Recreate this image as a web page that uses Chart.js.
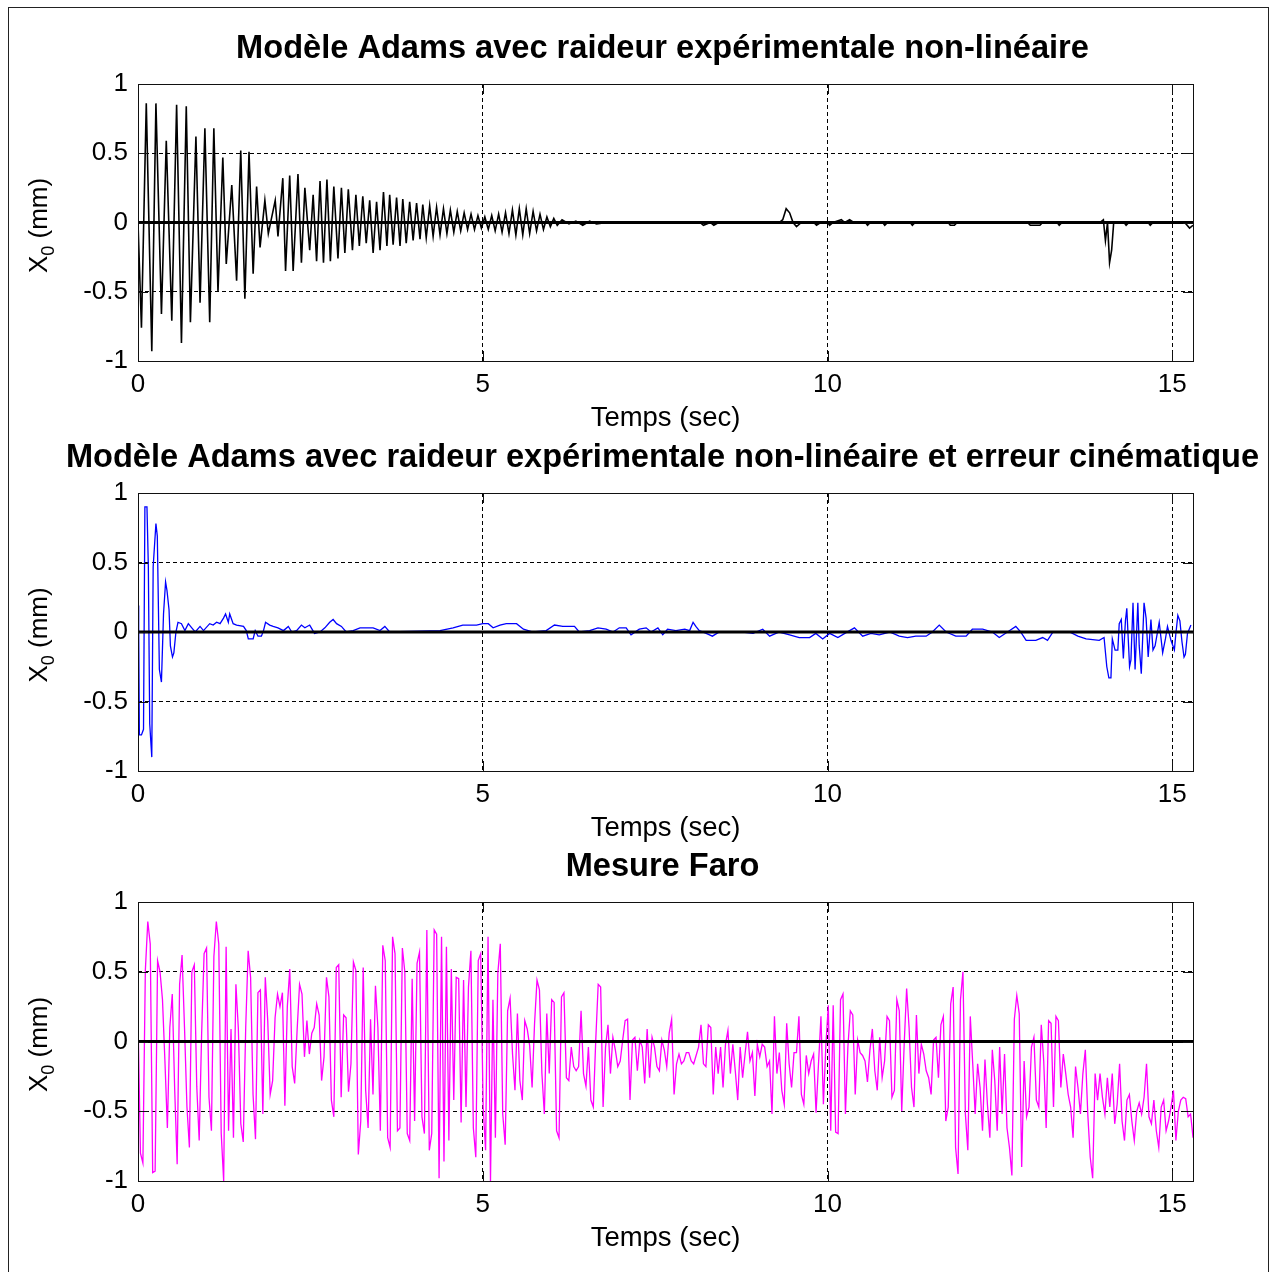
<!DOCTYPE html>
<html>
<head>
<meta charset="utf-8">
<script src="https://cdn.jsdelivr.net/npm/chart.js@4.4.1/dist/chart.umd.min.js"></script>
<style>
  html, body { margin: 0; padding: 0; background: #fff; }
  #page { position: relative; width: 1271px; height: 1272px; overflow: hidden; background: #fff; }
  #frame { position: absolute; left: 8px; top: 7px; width: 1261px; height: 1270px; border: 1px solid #222; box-sizing: border-box; }
  canvas { position: absolute; left: 0; top: 0; }
</style>
</head>
<body>
<div id="page">
  <div id="frame"></div>
  <canvas id="adamsChart" width="1271" height="1272"></canvas>
  <canvas id="cinemChart" width="1271" height="1272"></canvas>
  <canvas id="faroChart" width="1271" height="1272"></canvas>
</div>
<script>
// axis ticks shared by the three panels
const xTicks = [0, 5, 10, 15];
const yTicks = [-1, -0.5, 0, 0.5, 1];
const timeMax = 15.3;

const panelTitles = [
    'Modèle Adams avec raideur expérimentale non-linéaire',
    'Modèle Adams avec raideur expérimentale non-linéaire et erreur cinématique',
    'Mesure Faro'
];

// [time (s), X0 (mm)]
const adamsSamples = [
    [0, 0], [0.05, -0.76], [0.12, 0.86], [0.2, -0.93], [0.26, 0.86], [0.34, -0.66], [0.41, 0.59], [0.49, -0.71], [0.56, 0.85], [0.63, -0.87],
    [0.7, 0.84], [0.76, -0.72], [0.84, 0.62], [0.9, -0.58], [0.97, 0.68], [1.04, -0.72], [1.1, 0.68], [1.16, -0.5], [1.23, 0.47], [1.28, -0.3],
    [1.36, 0.27], [1.43, -0.42], [1.49, 0.52], [1.55, -0.55], [1.61, 0.51], [1.67, -0.37], [1.72, 0.26], [1.77, -0.18], [1.84, 0.16], [1.89, -0.08],
    [1.99, 0.16], [2.03, -0.1], [2.1, 0.32], [2.14, -0.35], [2.2, 0.34], [2.25, -0.35], [2.32, 0.35], [2.37, -0.29], [2.42, 0.25], [2.49, -0.2],
    [2.54, 0.2], [2.59, -0.28], [2.64, 0.3], [2.69, -0.29], [2.74, 0.31], [2.79, -0.28], [2.84, 0.26], [2.9, -0.26], [2.95, 0.25], [3.0, -0.22],
    [3.05, 0.24], [3.11, -0.2], [3.16, 0.2], [3.21, -0.17], [3.26, 0.19], [3.31, -0.15], [3.36, 0.16], [3.41, -0.22], [3.46, 0.15], [3.51, -0.2],
    [3.56, 0.22], [3.61, -0.17], [3.65, 0.2], [3.7, -0.16], [3.75, 0.18], [3.8, -0.17], [3.84, 0.17], [3.89, -0.15], [3.94, 0.15], [3.99, -0.13],
    [4.04, 0.14], [4.09, -0.12], [4.13, 0.13], [4.18, -0.11], [4.23, 0.12], [4.28, -0.1], [4.33, 0.11], [4.38, -0.09], [4.43, 0.1], [4.48, -0.08],
    [4.53, 0.09], [4.58, -0.07], [4.63, 0.08], [4.68, -0.06], [4.73, 0.07], [4.78, -0.05], [4.83, 0.06], [4.88, -0.05], [4.93, 0.05], [4.98, -0.04],
    [5.03, 0.04], [5.08, -0.05], [5.13, 0.05], [5.18, -0.06], [5.23, 0.06], [5.28, -0.07], [5.33, 0.07], [5.38, -0.08], [5.43, 0.09], [5.48, -0.09],
    [5.53, 0.1], [5.58, -0.09], [5.63, 0.1], [5.68, -0.08], [5.73, 0.08], [5.78, -0.06], [5.83, 0.06], [5.88, -0.05], [5.93, 0.04], [5.98, -0.03],
    [6.03, 0.03], [6.08, -0.02], [6.15, 0.02], [6.25, -0.01], [6.35, 0.01], [6.45, -0.02], [6.55, 0.01], [6.65, -0.01], [6.8, 0], [8.15, 0],
    [8.2, -0.02], [8.3, 0], [8.35, -0.02], [8.42, 0], [9.3, 0], [9.35, 0.02], [9.4, 0.1], [9.45, 0.07], [9.5, 0], [9.55, -0.03],
    [9.62, 0], [9.8, 0], [9.84, -0.02], [9.9, 0], [10.0, 0], [10.03, -0.02], [10.08, 0], [10.2, 0.02], [10.25, 0], [10.32, 0.02],
    [10.38, 0], [10.55, 0], [10.58, -0.02], [10.62, 0], [10.8, 0], [10.83, -0.02], [10.87, 0], [11.2, 0], [11.23, -0.02], [11.27, 0],
    [11.75, 0], [11.78, -0.02], [11.84, -0.02], [11.88, 0], [12.9, 0], [12.94, -0.02], [13.08, -0.02], [13.12, 0], [13.33, 0], [13.36, -0.02],
    [13.4, 0], [13.95, 0], [14.0, 0.02], [14.03, -0.13], [14.06, 0], [14.09, -0.29], [14.12, -0.2], [14.15, 0], [14.3, 0], [14.33, -0.02],
    [14.37, 0], [14.65, 0], [14.68, -0.02], [14.72, 0], [15.18, 0], [15.25, -0.04], [15.3, -0.02]
];

// [time (s), X0 (mm)]
const cinemSamples = [
    [0, 0.19], [0.01, 0.03], [0.02, -0.74], [0.05, -0.74], [0.08, -0.7], [0.1, 0.9], [0.13, 0.9], [0.15, 0.47], [0.17, -0.66], [0.2, -0.9],
    [0.22, 0.47], [0.26, 0.78], [0.28, 0.69], [0.31, -0.27], [0.34, -0.36], [0.37, 0.13], [0.4, 0.36], [0.42, 0.3], [0.45, 0.16], [0.47, -0.1],
    [0.5, -0.18], [0.52, -0.15], [0.55, 0], [0.58, 0.07], [0.63, 0.06], [0.68, 0.01], [0.73, 0.06], [0.78, 0.03], [0.83, 0], [0.9, 0.04],
    [0.95, 0.01], [1.04, 0.06], [1.09, 0.05], [1.14, 0.07], [1.19, 0.06], [1.24, 0.1], [1.27, 0.13], [1.31, 0.07], [1.33, 0.13], [1.38, 0.06],
    [1.43, 0.05], [1.53, 0.04], [1.57, 0.01], [1.6, -0.05], [1.67, -0.05], [1.7, 0.01], [1.74, -0.03], [1.79, -0.03], [1.82, 0.01], [1.85, 0.07],
    [1.91, 0.05], [1.96, 0.04], [2.03, 0.03], [2.11, 0.01], [2.18, 0.04], [2.23, 0], [2.3, 0.01], [2.37, 0.05], [2.42, 0.03], [2.49, 0.05],
    [2.56, -0.01], [2.64, 0], [2.71, 0.03], [2.78, 0.07], [2.83, 0.09], [2.88, 0.06], [2.95, 0.04], [3.02, 0], [3.12, 0.01], [3.22, 0.03],
    [3.31, 0.03], [3.41, 0.03], [3.51, 0.01], [3.58, 0.04], [3.65, 0], [4.38, 0.01], [4.57, 0.03], [4.71, 0.05], [4.91, 0.05], [5.0, 0.06],
    [5.08, 0.06], [5.15, 0.03], [5.25, 0.05], [5.34, 0.06], [5.49, 0.06], [5.59, 0.02], [5.73, 0], [5.92, 0.01], [6.04, 0.05], [6.16, 0.04],
    [6.33, 0.04], [6.4, 0], [6.55, 0.01], [6.67, 0.03], [6.79, 0.02], [6.89, 0], [6.98, 0.03], [7.08, 0.03], [7.15, -0.02], [7.27, 0.02],
    [7.37, 0.03], [7.44, 0], [7.54, 0.03], [7.61, -0.02], [7.68, 0.02], [7.8, 0.01], [7.93, 0.02], [8.0, 0.01], [8.05, 0.07], [8.09, 0.04],
    [8.14, 0.01], [8.24, -0.01], [8.33, -0.03], [8.43, 0], [8.58, 0], [8.77, 0], [8.92, -0.01], [9.06, 0.02], [9.16, -0.03], [9.3, 0],
    [9.45, -0.02], [9.59, -0.04], [9.74, -0.04], [9.83, -0.01], [9.93, -0.05], [10.03, -0.01], [10.15, -0.04], [10.25, -0.01], [10.39, 0.03], [10.51, -0.03],
    [10.63, -0.01], [10.75, -0.02], [10.9, 0], [11.04, -0.03], [11.16, -0.04], [11.28, -0.03], [11.43, -0.03], [11.52, 0], [11.62, 0.05], [11.72, 0],
    [11.86, -0.03], [12.01, -0.03], [12.1, 0.02], [12.25, 0.02], [12.39, 0], [12.49, -0.04], [12.61, 0], [12.73, 0.04], [12.8, 0], [12.88, -0.06],
    [13.02, -0.06], [13.12, -0.04], [13.19, -0.06], [13.27, 0], [13.51, 0], [13.63, -0.03], [13.75, -0.05], [13.94, -0.06], [14.01, -0.04], [14.05, -0.25],
    [14.08, -0.33], [14.11, -0.33], [14.13, -0.05], [14.17, -0.13], [14.21, -0.13], [14.23, 0.06], [14.26, 0.09], [14.29, -0.19], [14.32, 0.08], [14.34, 0.17],
    [14.38, -0.25], [14.4, -0.2], [14.43, 0.21], [14.46, -0.27], [14.5, 0.21], [14.52, -0.1], [14.55, -0.3], [14.59, 0.21], [14.62, 0.1], [14.65, -0.18],
    [14.69, 0.09], [14.72, -0.13], [14.75, -0.1], [14.81, 0.07], [14.86, -0.15], [14.9, -0.05], [14.93, 0.04], [14.98, -0.06], [15.03, -0.13], [15.05, -0.02],
    [15.08, 0.12], [15.11, 0.08], [15.14, -0.07], [15.17, -0.18], [15.19, -0.16], [15.22, -0.01], [15.27, 0.05]
];

// Faro measurement, one value every faroStep seconds, split in three stretches
const faroStep = 0.0355;
const faroPart1 = [
    0.17, -0.8, -0.87, 0.51, 0.86, 0.7, -0.94, -0.93, 0.58, 0.5,
    0.3, -0.14, -0.62, 0.1, 0.34, -0.35, -0.88, 0.41, 0.62, 0.1,
    -0.47, -0.76, 0.5, 0.55, -0.32, -0.71, 0.06, 0.63, 0.67, -0.4,
    -0.64, 0.61, 0.86, 0.7, -0.66, -1.0, 0.68, -0.64, 0.09, -0.69,
    0.41, 0.09, -0.59, -0.72, 0.1, 0.65, 0.46, -0.38, -0.7, 0.35,
    0.37, -0.52, 0.46, 0.15, -0.38, -0.28, 0.17, 0.34, 0.25, 0.35,
    -0.46, 0.25, 0.52, -0.18, -0.3, 0.08, 0.41, 0.34, -0.11, 0.15,
    -0.09, 0.06, 0.1, 0.27, 0.19, -0.28, -0.11, 0.46, 0.32, -0.42,
    -0.54, 0.53, 0.55, -0.4, 0.19, 0.17, -0.36, -0.16, 0.57, 0.51,
    -0.81, -0.57, 0.53, -0.35, -0.62, 0.16, -0.38, 0.4, 0.1, -0.64,
    0.69, 0.58, -0.69, -0.76, 0.75, 0.63, -0.64, -0.62, 0.67, 0.5,
    -0.66, -0.71, 0.45, -0.57, 0.56, 0.64, -0.54, -0.66, 0.8, -0.78,
    -0.66, 0.8, 0.77, -0.98, 0.75, -0.86, 0.68, -0.71, 0.52, -0.42,
    0.46, 0.45, -0.58, 0.44, -0.47, 0.39, 0.65, -0.62, -0.83, 0.58,
    0.63, -0.47, -0.78
];
const faroPart2 = [
    0.75, -1.0, 0.3, -0.69, 0.49, 0.7, -0.52, -0.74, 0.22, 0.31,
    -0.09, -0.35, 0.2, -0.28, -0.42, 0.15, 0.09, -0.03, -0.33, 0.13,
    0.44, 0.37, -0.23, -0.52, 0.2, -0.23, 0.3, 0.28, -0.64, -0.69,
    0.32, 0.35, -0.26, -0.28, -0.04, -0.18, -0.21, -0.18, 0.22, -0.23,
    -0.32, -0.04, -0.42, -0.47, 0.01, 0.41, 0.39, -0.47, -0.04, 0.12,
    -0.23, 0.03, -0.06, -0.18, -0.14, 0.01, 0.15, 0.16, -0.42, 0.01,
    0.03, -0.21, 0.01, -0.04, -0.3, 0.09, -0.26, 0.03, -0.04, -0.18,
    -0.21, 0.01, -0.06, -0.18, 0.06, 0.16, -0.38, -0.16, -0.09, -0.16,
    -0.14, -0.08, -0.08, -0.14, -0.16, -0.1, -0.04, 0.12, -0.16, -0.18,
    0.12, 0.1, -0.38, -0.04, -0.23, -0.04, -0.33, -0.02, 0.08, -0.23,
    -0.02, -0.21, -0.42, -0.04, -0.26, -0.09, 0.07, -0.14, -0.08, -0.39,
    -0.02, -0.11, -0.02, -0.04, -0.18, -0.14, -0.52, 0.18, -0.23, -0.08,
    -0.35, -0.45, 0.13, -0.16, -0.33, -0.08, -0.08, 0.18, -0.38, -0.45,
    -0.1, -0.23, -0.14, -0.09, -0.51, -0.16, 0.18, -0.45, -0.03, 0.26,
    -0.64
];
const faroPart3 = [
    0.26, -0.65, -0.66, 0.3, 0.34, -0.52, -0.04, 0.22, 0.19, -0.38,
    0.01, -0.08, -0.1, -0.14, -0.29, -0.06, 0.09, -0.21, -0.35, 0.03,
    -0.26, -0.14, 0.18, 0.15, -0.4, -0.35, 0.3, 0.22, -0.5, -0.02,
    0.38, 0.1, -0.33, -0.47, 0.19, -0.23, -0.02, -0.09, -0.21, -0.26,
    -0.38, 0.01, 0.03, -0.26, 0.12, 0.18, -0.57, -0.47, 0.27, 0.39,
    -0.76, -0.95, 0.3, 0.5, -0.52, -0.78, 0.18, -0.16, -0.52, -0.16,
    -0.33, -0.64, -0.13, -0.45, -0.69, -0.06, -0.28, -0.64, -0.04, -0.52,
    -0.09, -0.62, -0.76, -0.96, 0.16, 0.33, 0.2, -0.9, -0.14, -0.54,
    -0.47, -0.04, 0.03, -0.42, -0.47, 0.12, -0.14, -0.62, 0.15, 0.13,
    -0.47, 0.18, 0.15, -0.33, -0.09, -0.23, -0.38, -0.47, -0.69, -0.18,
    -0.33, -0.52, -0.23, -0.06, -0.52, -0.83, -0.98, -0.23, -0.42, -0.23,
    -0.4, -0.52, -0.26, -0.47, -0.23, -0.59, -0.45, -0.16, -0.57, -0.71,
    -0.42, -0.38, -0.57, -0.71, -0.5, -0.44, -0.52, -0.4, -0.16, -0.54,
    -0.59, -0.42, -0.64, -0.76, -0.47, -0.42, -0.64, -0.57, -0.47, -0.35,
    -0.71, -0.5, -0.42, -0.4, -0.41, -0.54, -0.52, -0.69
];

const fontFamily = "'Liberation Sans', Arial, sans-serif";

function toPoints(samples) {
    return samples.map(function (s) { return { x: s[0], y: s[1] }; });
}

function faroPoints() {
    const values = faroPart1.concat(faroPart2, faroPart3);
    return values.map(function (v, i) { return { x: i * faroStep, y: v }; });
}

// box, inward ticks, thick zero line, panel title and the X0 label
const panelDecor = {
    id: 'panelDecor',
    afterDatasetsDraw(chart, args, opts) {
        const ctx = chart.ctx;
        const area = chart.chartArea;
        const xScale = chart.scales.x;
        const yScale = chart.scales.y;
        ctx.save();

        const zeroY = yScale.getPixelForValue(0);
        ctx.strokeStyle = '#000';
        ctx.lineWidth = 2.8;
        ctx.beginPath();
        ctx.moveTo(area.left, zeroY);
        ctx.lineTo(area.right, zeroY);
        ctx.stroke();

        ctx.lineWidth = 1;
        ctx.strokeStyle = '#111';
        ctx.strokeRect(area.left + 0.5, area.top + 0.5, area.width, area.height);

        ctx.beginPath();
        for (const t of xScale.ticks) {
            const px = Math.round(xScale.getPixelForValue(t.value)) + 0.5;
            ctx.moveTo(px, area.bottom);
            ctx.lineTo(px, area.bottom - 10);
            ctx.moveTo(px, area.top);
            ctx.lineTo(px, area.top + 10);
        }
        for (const t of yScale.ticks) {
            const py = Math.round(yScale.getPixelForValue(t.value)) + 0.5;
            ctx.moveTo(area.left, py);
            ctx.lineTo(area.left + 10, py);
            ctx.moveTo(area.right, py);
            ctx.lineTo(area.right - 10, py);
        }
        ctx.stroke();
        ctx.restore();
    },
    afterDraw(chart, args, opts) {
        const ctx = chart.ctx;
        const area = chart.chartArea;
        ctx.save();
        ctx.fillStyle = '#000';
        ctx.textAlign = 'center';
        ctx.textBaseline = 'middle';
        ctx.font = 'bold 32.6px ' + fontFamily;
        ctx.fillText(opts.title, (area.left + area.right) / 2 - 3, area.top - 35);

        const big = '26px ' + fontFamily;
        const small = '18px ' + fontFamily;
        ctx.font = big;
        const wX = ctx.measureText('X').width;
        const wRest = ctx.measureText(' (mm)').width;
        ctx.font = small;
        const wSub = ctx.measureText('0').width;
        const start = -(wX + wSub + wRest) / 2;

        ctx.translate(40, (area.top + area.bottom) / 2 + 3);
        ctx.rotate(-Math.PI / 2);
        ctx.textAlign = 'left';
        ctx.font = big;
        ctx.fillText('X', start, 0);
        ctx.font = small;
        ctx.fillText('0', start + wX, 9);
        ctx.font = big;
        ctx.fillText(' (mm)', start + wX + wSub, 0);
        ctx.restore();
    }
};

function buildPanel(canvasId, plotTop, plotBottom, title, points, color, lineWidth) {
    const axisBand = 79;
    return new Chart(document.getElementById(canvasId), {
        type: 'line',
        data: {
            datasets: [{
                data: points,
                borderColor: color,
                borderWidth: lineWidth,
                pointRadius: 0,
                tension: 0,
                fill: false
            }]
        },
        options: {
            responsive: false,
            animation: false,
            events: [],
            parsing: false,
            layout: {
                padding: { left: 0, right: 78, top: plotTop, bottom: 1272 - plotBottom - axisBand }
            },
            plugins: {
                legend: { display: false },
                tooltip: { enabled: false },
                panelDecor: { title: title }
            },
            scales: {
                x: {
                    type: 'linear',
                    min: 0,
                    max: timeMax,
                    afterBuildTicks: function (scale) {
                        scale.ticks = xTicks.map(function (v) { return { value: v }; });
                    },
                    afterFit: function (scale) { scale.height = axisBand; },
                    grid: { color: '#000', lineWidth: 1, drawTicks: false },
                    border: { display: false, dash: [4, 3] },
                    ticks: {
                        color: '#000',
                        font: { family: fontFamily, size: 26 },
                        padding: 8,
                        maxRotation: 0,
                        autoSkip: false
                    },
                    title: {
                        display: true,
                        text: 'Temps (sec)',
                        color: '#000',
                        font: { family: fontFamily, size: 27.5 },
                        padding: { top: 0, bottom: 5 }
                    }
                },
                y: {
                    type: 'linear',
                    min: -1,
                    max: 1,
                    afterBuildTicks: function (scale) {
                        scale.ticks = yTicks.map(function (v) { return { value: v }; });
                    },
                    afterFit: function (scale) { scale.width = 138; },
                    grid: { color: '#000', lineWidth: 1, drawTicks: false },
                    border: { display: false, dash: [4, 3] },
                    ticks: {
                        color: '#000',
                        font: { family: fontFamily, size: 26 },
                        padding: 10,
                        callback: function (v) { return String(v); }
                    }
                }
            }
        },
        plugins: [panelDecor]
    });
}

buildPanel('adamsChart', 84, 361, panelTitles[0], toPoints(adamsSamples), '#000000', 1.6);
buildPanel('cinemChart', 493, 771, panelTitles[1], toPoints(cinemSamples), '#0000ff', 1.3);
buildPanel('faroChart', 902, 1181, panelTitles[2], faroPoints(), '#ff00ff', 1.3);
</script>
</body>
</html>
